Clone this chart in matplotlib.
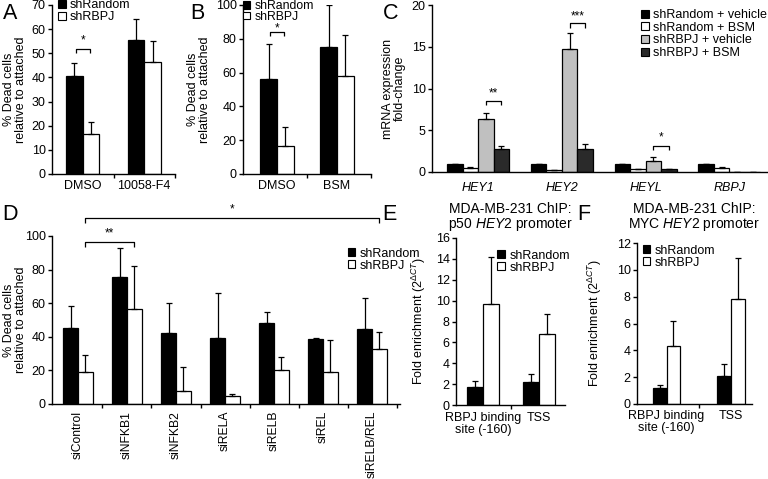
import matplotlib
matplotlib.use("Agg")
import matplotlib.pyplot as plt
from matplotlib.patches import Patch
import numpy as np

plt.rcParams['font.family'] = ['Liberation Sans', 'DejaVu Sans']
plt.rcParams['mathtext.fontset'] = 'custom'
plt.rcParams['mathtext.rm'] = 'Liberation Sans'
plt.rcParams['mathtext.it'] = 'Liberation Sans:italic'
plt.rcParams['font.size'] = 9
plt.rcParams['axes.linewidth'] = 1.0

# ---------------- data ----------------
a_cats = ["DMSO", "10058-F4"]
a_random = [40.5, 55.5]
a_random_err = [5.5, 8.5]
a_rbpj = [16.5, 46.5]
a_rbpj_err = [5.0, 8.5]

b_cats = ["DMSO", "BSM"]
b_random = [56, 75]
b_random_err = [21, 25]
b_rbpj = [16.5, 58]
b_rbpj_err = [11.5, 24]

c_genes = ["HEY1", "HEY2", "HEYL", "RBPJ"]
c_series = ["shRandom + vehicle", "shRandom + BSM", "shRBPJ + vehicle", "shRBPJ + BSM"]
c_rand_veh = [1.0, 1.0, 1.0, 1.0]
c_rand_veh_err = [0.0, 0.0, 0.0, 0.0]
c_rand_bsm = [0.45, 0.2, 0.3, 0.5]
c_rand_bsm_err = [0.15, 0.08, 0.05, 0.15]
c_rbpj_veh = [6.4, 14.7, 1.3, 0.05]
c_rbpj_veh_err = [0.65, 1.9, 0.45, 0.0]
c_rbpj_bsm = [2.7, 2.8, 0.4, 0.05]
c_rbpj_bsm_err = [0.45, 0.5, 0.0, 0.0]

d_cats = ["siControl", "siNFKB1", "siNFKB2", "siRELA", "siRELB", "siREL", "siRELB/REL"]
d_random = [45.5, 75.5, 42, 39.5, 48.5, 38.5, 44.5]
d_random_err = [13, 17.5, 18, 26.5, 6.5, 0.5, 18.5]
d_rbpj = [19, 56.5, 7.5, 5, 20, 19, 32.5]
d_rbpj_err = [10, 25.5, 14.5, 1, 8, 19, 10.5]

e_cats = ["RBPJ binding\nsite (-160)", "TSS"]
e_random = [1.7, 2.2]
e_random_err = [0.6, 0.8]
e_rbpj = [9.7, 6.8]
e_rbpj_err = [4.5, 1.9]

f_cats = ["RBPJ binding\nsite (-160)", "TSS"]
f_random = [1.2, 2.1]
f_random_err = [0.25, 0.85]
f_rbpj = [4.3, 7.85]
f_rbpj_err = [1.9, 3.05]

# ---------------- layout helpers ----------------
W, H = 768, 479
fig = plt.figure(figsize=(W / 100, H / 100), dpi=100)
FS = 9


def axes_px(l, t, r, b):
    return fig.add_axes([l / W, 1 - b / H, (r - l) / W, (b - t) / H])


def style(ax):
    ax.spines['top'].set_visible(False)
    ax.spines['right'].set_visible(False)
    ax.tick_params(axis='y', direction='out', length=3, width=1, pad=1.5, labelsize=FS)
    ax.tick_params(axis='x', length=0, pad=4, labelsize=FS)


def bars(ax, x, vals, errs, color, width):
    ax.bar(x, vals, width=width, color=color, edgecolor='black', linewidth=0.9, zorder=2)
    ax.errorbar(x, vals, yerr=[np.zeros(len(vals)), errs], fmt='none', ecolor='black',
                elinewidth=0.9, capsize=2.5, capthick=0.9, zorder=3)


def bracket(ax, x1, x2, y, drop, label, star_off, clip=True):
    ax.plot([x1, x1, x2, x2], [y - drop, y, y, y - drop], color='black', lw=0.9,
            clip_on=clip, solid_capstyle='butt')
    ax.text((x1 + x2) / 2, y + star_off, label, ha='center', va='bottom', fontsize=8.5)


def minor_ticks(ax, locs):
    ax.set_xticks(locs, minor=True)
    ax.tick_params(axis='x', which='minor', direction='out', length=3, width=1)


def sq_legend(ax, labels, colors, loc, bbox, fs=FS, spacing=0.0):
    handles = [Patch(facecolor=c, edgecolor='black', linewidth=0.8) for c in colors]
    ax.legend(handles, labels, loc=loc, bbox_to_anchor=bbox, frameon=False, fontsize=fs,
              handlelength=0.6, handleheight=0.6, handletextpad=0.35, labelspacing=spacing,
              borderaxespad=0, borderpad=0)


def ylab(ax, text, right_px, left_px, width_px):
    ax.set_ylabel(text, fontsize=FS, linespacing=1.05)
    ax.yaxis.set_label_coords((right_px - left_px) / width_px, 0.5)


ylab_dead = "% Dead cells\nrelative to attached"

# ---------------- Panel A ----------------
ax = axes_px(52, 5, 175, 174)
style(ax)
xa = np.arange(len(a_cats))
w = 0.27
bars(ax, xa - w / 2, a_random, a_random_err, 'black', w)
bars(ax, xa + w / 2, a_rbpj, a_rbpj_err, 'white', w)
ax.set_xlim(-0.5, 1.5)
ax.set_ylim(0, 70)
ax.set_yticks(np.arange(0, 71, 10))
ax.set_xticks(xa)
ax.set_xticklabels(a_cats)
minor_ticks(ax, [0.5, 1.5])
ylab(ax, ylab_dead, 27, 52, 123)
bracket(ax, -w / 2 + 0.02, w / 2 - 0.02, 51.8, 1.8, "*", 1.2)
sq_legend(ax, ["shRandom", "shRBPJ"], ['black', 'white'], 'upper left', (0.05, 1.035))

# ---------------- Panel B ----------------
ax = axes_px(243, 5, 371, 174)
style(ax)
xb = np.arange(len(b_cats))
w = 0.28
bars(ax, xb - w / 2, b_random, b_random_err, 'black', w)
bars(ax, xb + w / 2, b_rbpj, b_rbpj_err, 'white', w)
ax.set_xlim(-0.57, 1.57)
ax.set_ylim(0, 100)
ax.set_yticks(np.arange(0, 101, 20))
ax.set_xticks(xb)
ax.set_xticklabels(b_cats)
minor_ticks(ax, [0.5, 1.57])
ylab(ax, ylab_dead, 211, 243, 128)
bracket(ax, -w / 2 + 0.02, w / 2 - 0.02, 84, 2.5, "*", -1.5)
sq_legend(ax, ["shRandom", "shRBPJ"], ['black', 'white'], 'upper left', (0.0, 1.03),
          fs=8.8, spacing=-0.1)

# ---------------- Panel C ----------------
ax = axes_px(432, 5, 767, 172)
style(ax)
xc = np.arange(len(c_genes))
w = 0.185
c_vals = [c_rand_veh, c_rand_bsm, c_rbpj_veh, c_rbpj_bsm]
c_errs = [c_rand_veh_err, c_rand_bsm_err, c_rbpj_veh_err, c_rbpj_bsm_err]
c_cols = ['black', 'white', '#c0c0c0', '#2a2a2a']
for i in range(4):
    bars(ax, xc + (i - 1.5) * w, c_vals[i], c_errs[i], c_cols[i], w)
ax.set_xlim(-0.55, 3.45)
ax.set_ylim(0, 20)
ax.set_yticks(np.arange(0, 21, 5))
ax.set_xticks(xc)
ax.set_xticklabels(c_genes, style='italic')
ax.tick_params(axis='x', pad=7)
ylab(ax, "mRNA expression\nfold-change", 406, 432, 335)
bracket(ax, xc[0] + 0.5 * w, xc[0] + 1.5 * w, 8.5, 0.5, "**", 0.15)
bracket(ax, xc[1] + 0.5 * w, xc[1] + 1.5 * w, 17.8, 0.5, "***", 0.15)
bracket(ax, xc[2] + 0.5 * w, xc[2] + 1.5 * w, 3.1, 0.5, "*", 0.35)
sq_legend(ax, c_series, c_cols, 'upper left', (0.625, 0.975), spacing=0.05)

# ---------------- Panel D ----------------
ax = axes_px(52, 236, 400, 404)
style(ax)
xd = np.arange(len(d_cats))
w = 0.3
bars(ax, xd - w / 2, d_random, d_random_err, 'black', w)
bars(ax, xd + w / 2, d_rbpj, d_rbpj_err, 'white', w)
ax.set_xlim(-0.53, 6.57)
ax.set_ylim(0, 100)
ax.set_yticks(np.arange(0, 101, 20))
ax.set_xticks(xd)
ax.set_xticklabels(d_cats, rotation=90, fontsize=8.7)
ax.tick_params(axis='x', pad=5)
minor_ticks(ax, np.arange(len(d_cats)) + 0.5)
ylab(ax, ylab_dead, 27, 52, 348)
bracket(ax, xd[0] + w / 2, xd[1] + w / 2, 96.5, 3, "**", 1.5)
bracket(ax, xd[0] + w / 2, xd[6] + w / 2, 110.7, 3, "*", 1.5, clip=False)
sq_legend(ax, ["shRandom", "shRBPJ"], ['black', 'white'], 'upper left', (0.85, 0.93))

# ---------------- Panel E ----------------
ax = axes_px(456, 238, 565, 405)
style(ax)
xe = np.arange(len(e_cats))
w = 0.29
bars(ax, xe - w / 2, e_random, e_random_err, 'black', w)
bars(ax, xe + w / 2, e_rbpj, e_rbpj_err, 'white', w)
ax.set_xlim(-0.48, 1.47)
ax.set_ylim(0, 16)
ax.set_yticks(np.arange(0, 17, 2))
ax.set_xticks(xe)
ax.set_xticklabels(e_cats, linespacing=1.05)
ax.tick_params(axis='x', pad=5)
minor_ticks(ax, [0.5])
ylab(ax, r"Fold enrichment (2$^{\Delta CT}$)", 428, 456, 109)
ax.set_title("MDA-MB-231 ChIP:\np50 $\\it{HEY2}$ promoter", fontsize=10, linespacing=1.0, pad=7)
sq_legend(ax, ["shRandom", "shRBPJ"], ['black', 'white'], 'upper left', (0.38, 0.93))

# ---------------- Panel F ----------------
ax = axes_px(637, 243, 752, 404)
style(ax)
xf = np.arange(len(f_cats))
w = 0.215
bars(ax, xf - w / 2, f_random, f_random_err, 'black', w)
bars(ax, xf + w / 2, f_rbpj, f_rbpj_err, 'white', w)
ax.set_xlim(-0.46, 1.33)
ax.set_ylim(0, 12)
ax.set_yticks(np.arange(0, 13, 2))
ax.set_xticks(xf)
ax.set_xticklabels(f_cats, linespacing=1.05)
minor_ticks(ax, [0.5])
ylab(ax, r"Fold enrichment (2$^{\Delta CT}$)", 604, 637, 115)
ax.set_title("MDA-MB-231 ChIP:\nMYC $\\it{HEY2}$ promoter", fontsize=10, linespacing=1.0, pad=11)
sq_legend(ax, ["shRandom", "shRBPJ"], ['black', 'white'], 'upper left', (0.05, 0.99))

# ---------------- panel letters ----------------
for lbl, x, y in [("A", 3, 3), ("B", 190, 3), ("C", 383, 3), ("D", 2, 204), ("E", 382, 204), ("F", 577, 204)]:
    fig.text(x / W, 1 - y / H, lbl, fontsize=15.5, va='top', ha='left')

fig.savefig("out.png", dpi=100)
